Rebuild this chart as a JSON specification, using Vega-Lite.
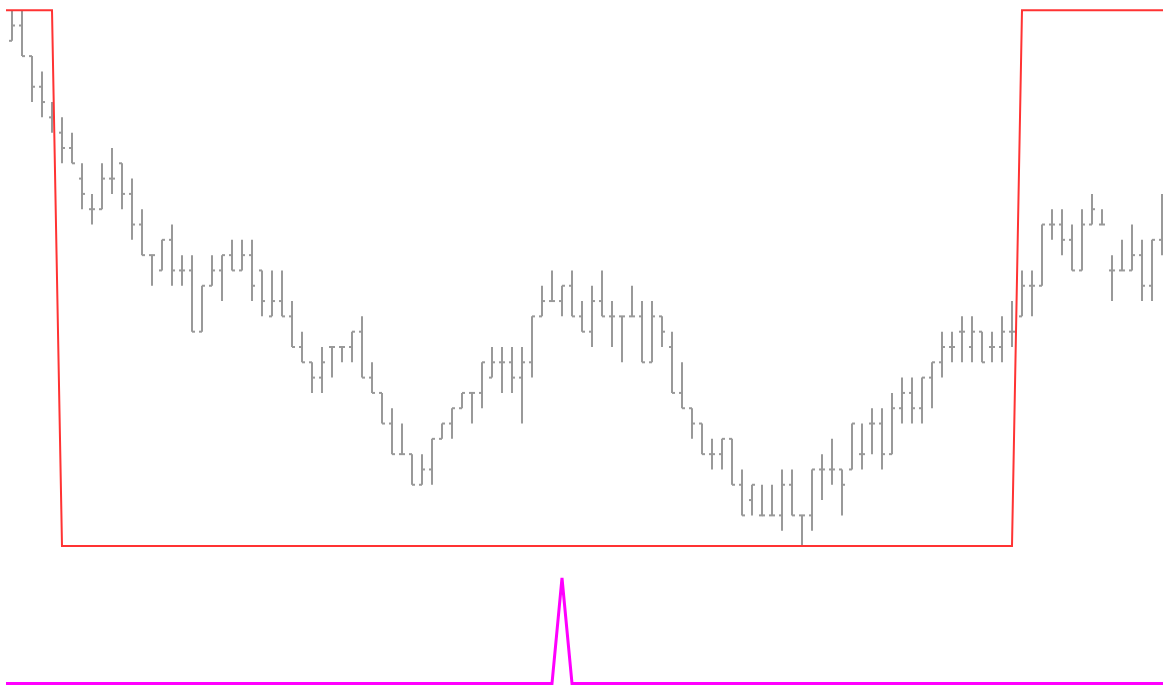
{
  "$schema": "https://vega.github.io/schema/vega-lite/v6.json",
  "padding": 0,
  "spacing": 0,
  "background": "white",
  "config": {"view": {"stroke": null}, "concat": {"spacing": 0}},
  "datasets": {
    "ohlc": [
      {"i":0,"o":33,"h":35,"l":33,"c":34},{"i":1,"o":34,"h":35,"l":32,"c":32},{"i":2,"o":32,"h":32,"l":29,"c":30},
      {"i":3,"o":30,"h":31,"l":28,"c":29},{"i":4,"o":28,"h":29,"l":27,"c":28},{"i":5,"o":27,"h":28,"l":25,"c":26},
      {"i":6,"o":26,"h":27,"l":25,"c":25},{"i":7,"o":24,"h":25,"l":22,"c":23},{"i":8,"o":22,"h":23,"l":21,"c":22},
      {"i":9,"o":22,"h":25,"l":22,"c":24},{"i":10,"o":24,"h":26,"l":23,"c":24},{"i":11,"o":25,"h":25,"l":22,"c":23},
      {"i":12,"o":23,"h":24,"l":20,"c":21},{"i":13,"o":21,"h":22,"l":19,"c":19},{"i":14,"o":19,"h":19,"l":17,"c":19},
      {"i":15,"o":18,"h":20,"l":18,"c":20},{"i":16,"o":20,"h":21,"l":17,"c":18},{"i":17,"o":18,"h":19,"l":17,"c":18},
      {"i":18,"o":18,"h":19,"l":14,"c":14},{"i":19,"o":14,"h":17,"l":14,"c":17},{"i":20,"o":17,"h":19,"l":17,"c":18},
      {"i":21,"o":18,"h":19,"l":16,"c":19},{"i":22,"o":19,"h":20,"l":18,"c":18},{"i":23,"o":18,"h":20,"l":18,"c":19},
      {"i":24,"o":19,"h":20,"l":16,"c":17},{"i":25,"o":18,"h":18,"l":15,"c":16},{"i":26,"o":15,"h":18,"l":15,"c":16},
      {"i":27,"o":16,"h":18,"l":15,"c":15},{"i":28,"o":15,"h":16,"l":13,"c":13},{"i":29,"o":13,"h":14,"l":12,"c":12},
      {"i":30,"o":12,"h":12,"l":10,"c":11},{"i":31,"o":11,"h":13,"l":10,"c":12},{"i":32,"o":13,"h":13,"l":11,"c":13},
      {"i":33,"o":13,"h":13,"l":12,"c":13},{"i":34,"o":13,"h":14,"l":12,"c":14},{"i":35,"o":14,"h":15,"l":11,"c":11},
      {"i":36,"o":11,"h":12,"l":10,"c":10},{"i":37,"o":10,"h":10,"l":8,"c":8},{"i":38,"o":8,"h":9,"l":6,"c":6},
      {"i":39,"o":6,"h":8,"l":6,"c":6},{"i":40,"o":6,"h":6,"l":4,"c":4},{"i":41,"o":4,"h":6,"l":4,"c":5},
      {"i":42,"o":5,"h":7,"l":4,"c":7},{"i":43,"o":7,"h":8,"l":7,"c":8},{"i":44,"o":8,"h":9,"l":7,"c":9},
      {"i":45,"o":9,"h":10,"l":9,"c":10},{"i":46,"o":10,"h":10,"l":8,"c":10},{"i":47,"o":10,"h":12,"l":9,"c":12},
      {"i":48,"o":11,"h":13,"l":11,"c":12},{"i":49,"o":12,"h":13,"l":10,"c":12},{"i":50,"o":12,"h":13,"l":10,"c":11},
      {"i":51,"o":11,"h":13,"l":8,"c":12},{"i":52,"o":12,"h":15,"l":11,"c":15},{"i":53,"o":15,"h":17,"l":15,"c":16},
      {"i":54,"o":16,"h":18,"l":16,"c":16},{"i":55,"o":16,"h":17,"l":15,"c":17},{"i":56,"o":17,"h":18,"l":15,"c":15},
      {"i":57,"o":15,"h":16,"l":14,"c":14},{"i":58,"o":14,"h":17,"l":13,"c":16},{"i":59,"o":16,"h":18,"l":15,"c":15},
      {"i":60,"o":15,"h":16,"l":13,"c":15},{"i":61,"o":15,"h":15,"l":12,"c":15},{"i":62,"o":15,"h":17,"l":15,"c":15},
      {"i":63,"o":15,"h":16,"l":12,"c":12},{"i":64,"o":12,"h":16,"l":12,"c":15},{"i":65,"o":15,"h":15,"l":13,"c":14},
      {"i":66,"o":13,"h":14,"l":10,"c":10},{"i":67,"o":10,"h":12,"l":9,"c":9},{"i":68,"o":9,"h":9,"l":7,"c":8},
      {"i":69,"o":8,"h":8,"l":6,"c":6},{"i":70,"o":6,"h":7,"l":5,"c":6},{"i":71,"o":6,"h":7,"l":5,"c":7},
      {"i":72,"o":7,"h":7,"l":4,"c":4},{"i":73,"o":4,"h":5,"l":2,"c":2},{"i":74,"o":3,"h":4,"l":2,"c":4},
      {"i":75,"o":2,"h":4,"l":2,"c":2},{"i":76,"o":2,"h":4,"l":2,"c":2},{"i":77,"o":2,"h":5,"l":1,"c":4},
      {"i":78,"o":4,"h":5,"l":2,"c":2},{"i":79,"o":2,"h":2,"l":0,"c":2},{"i":80,"o":2,"h":5,"l":1,"c":5},
      {"i":81,"o":5,"h":6,"l":3,"c":5},{"i":82,"o":5,"h":7,"l":4,"c":5},{"i":83,"o":5,"h":5,"l":2,"c":4},
      {"i":84,"o":5,"h":8,"l":5,"c":8},{"i":85,"o":6,"h":8,"l":5,"c":6},{"i":86,"o":8,"h":9,"l":6,"c":8},
      {"i":87,"o":8,"h":9,"l":5,"c":6},{"i":88,"o":6,"h":10,"l":6,"c":9},{"i":89,"o":9,"h":11,"l":8,"c":10},
      {"i":90,"o":10,"h":11,"l":8,"c":9},{"i":91,"o":9,"h":11,"l":8,"c":11},{"i":92,"o":11,"h":12,"l":9,"c":12},
      {"i":93,"o":12,"h":14,"l":11,"c":13},{"i":94,"o":13,"h":14,"l":12,"c":13},{"i":95,"o":14,"h":15,"l":12,"c":14},
      {"i":96,"o":13,"h":15,"l":12,"c":14},{"i":97,"o":14,"h":14,"l":12,"c":12},{"i":98,"o":13,"h":14,"l":12,"c":13},
      {"i":99,"o":13,"h":15,"l":12,"c":14},{"i":100,"o":14,"h":16,"l":13,"c":14},{"i":101,"o":15,"h":18,"l":15,"c":17},
      {"i":102,"o":17,"h":18,"l":15,"c":17},{"i":103,"o":17,"h":21,"l":17,"c":21},{"i":104,"o":21,"h":22,"l":20,"c":21},
      {"i":105,"o":21,"h":22,"l":19,"c":20},{"i":106,"o":20,"h":21,"l":18,"c":18},{"i":107,"o":18,"h":22,"l":18,"c":21},
      {"i":108,"o":21,"h":23,"l":21,"c":22},{"i":109,"o":21,"h":22,"l":21,"c":21},{"i":110,"o":18,"h":19,"l":16,"c":18},
      {"i":111,"o":18,"h":20,"l":18,"c":18},{"i":112,"o":18,"h":21,"l":18,"c":19},{"i":113,"o":19,"h":20,"l":16,"c":17},
      {"i":114,"o":17,"h":20,"l":16,"c":20},{"i":115,"o":20,"h":23,"l":19,"c":20}
    ],
    "osc": [
      {"i":-0.6,"v":100},{"i":0,"v":100},{"i":1,"v":100},{"i":2,"v":100},{"i":3,"v":100},{"i":4,"v":100},
      {"i":5,"v":0},{"i":10,"v":0},{"i":20,"v":0},{"i":30,"v":0},{"i":40,"v":0},{"i":50,"v":0},{"i":60,"v":0},
      {"i":70,"v":0},{"i":80,"v":0},{"i":90,"v":0},{"i":100,"v":0},
      {"i":101,"v":100},{"i":105,"v":100},{"i":110,"v":100},{"i":115,"v":100},{"i":115.1,"v":100}
    ],
    "spike": [
      {"i":-0.6,"m":0},{"i":0,"m":0},{"i":10,"m":0},{"i":20,"m":0},{"i":30,"m":0},{"i":40,"m":0},{"i":50,"m":0},
      {"i":54,"m":0},{"i":55,"m":1},{"i":56,"m":0},{"i":60,"m":0},{"i":70,"m":0},{"i":80,"m":0},{"i":90,"m":0},
      {"i":100,"m":0},{"i":110,"m":0},{"i":115,"m":0},{"i":115.1,"m":0}
    ]
  },
  "vconcat": [
    {
      "width": 1163,
      "height": 556,
      "layer": [
        {
          "data": {"name": "ohlc"},
          "mark": {"type": "rule", "color": "#999999", "strokeWidth": 2, "clip": true},
          "encoding": {
            "x": {"field": "i", "type": "quantitative", "scale": {"domain": [-1.2, 115.1], "nice": false, "zero": false}, "axis": null},
            "y": {"field": "l", "type": "quantitative", "scale": {"domain": [-0.653, 35.666], "nice": false, "zero": false}, "axis": null},
            "y2": {"field": "h"}
          }
        },
        {
          "data": {"name": "ohlc"},
          "mark": {"type": "tick", "orient": "horizontal", "size": 3, "thickness": 2, "xOffset": -1.5, "color": "#999999", "opacity": 1, "clip": true},
          "encoding": {
            "x": {"field": "i", "type": "quantitative", "scale": {"domain": [-1.2, 115.1], "nice": false, "zero": false}, "axis": null},
            "y": {"field": "o", "type": "quantitative", "scale": {"domain": [-0.653, 35.666], "nice": false, "zero": false}, "axis": null}
          }
        },
        {
          "data": {"name": "ohlc"},
          "mark": {"type": "tick", "orient": "horizontal", "size": 3, "thickness": 2, "xOffset": 1.5, "color": "#999999", "opacity": 1, "clip": true},
          "encoding": {
            "x": {"field": "i", "type": "quantitative", "scale": {"domain": [-1.2, 115.1], "nice": false, "zero": false}, "axis": null},
            "y": {"field": "c", "type": "quantitative", "scale": {"domain": [-0.653, 35.666], "nice": false, "zero": false}, "axis": null}
          }
        },
        {
          "data": {"name": "osc"},
          "mark": {"type": "line", "color": "#ff3333", "strokeWidth": 2, "clip": true},
          "encoding": {
            "x": {"field": "i", "type": "quantitative", "scale": {"domain": [-1.2, 115.1], "nice": false, "zero": false}, "axis": null},
            "y": {"field": "v", "type": "quantitative", "scale": {"domain": [-1.866, 101.903], "nice": false, "zero": false}, "axis": null}
          }
        }
      ],
      "resolve": {"scale": {"y": "independent"}}
    },
    {
      "width": 1163,
      "height": 130,
      "data": {"name": "spike"},
      "mark": {"type": "line", "color": "#ff00ff", "strokeWidth": 3, "clip": true},
      "encoding": {
        "x": {"field": "i", "type": "quantitative", "scale": {"domain": [-1.2, 115.1], "nice": false, "zero": false}, "axis": null},
        "y": {"field": "m", "type": "quantitative", "scale": {"domain": [-0.0237, 1.2085], "nice": false, "zero": false}, "axis": null}
      }
    }
  ]
}
